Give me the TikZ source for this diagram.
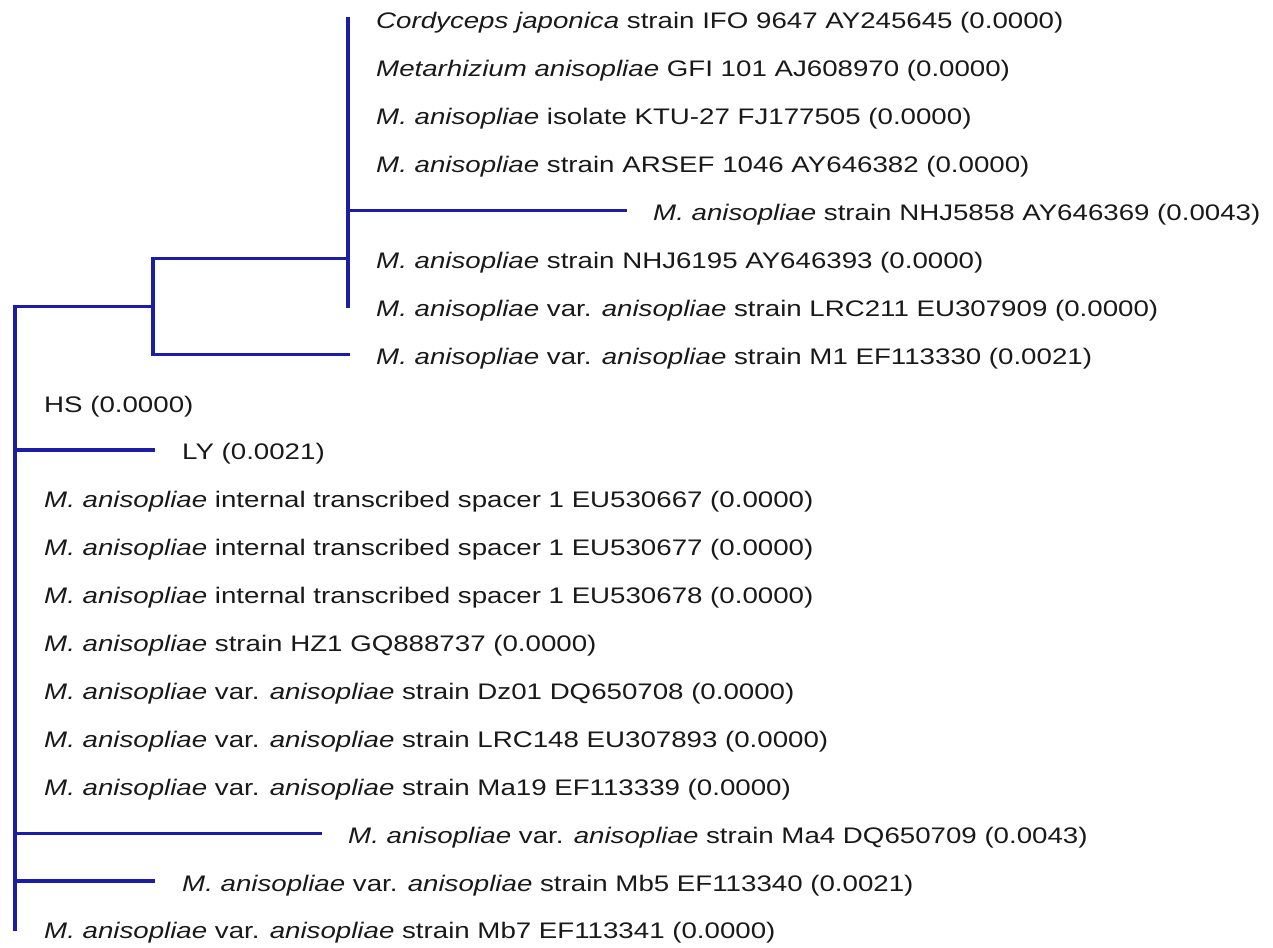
\documentclass[tikz,border=0pt]{standalone}
\usepackage{fontspec}
\setmainfont{Liberation Sans}
\newfontfamily\treefont[FakeStretch=1.23]{Liberation Sans}
\usepackage{xcolor}
\usepackage{tikz}
\usetikzlibrary{positioning}
\definecolor{branchline}{RGB}{28,28,165}
\definecolor{labeltext}{RGB}{25,25,25}
\newcommand{\Manis}{\textit{M. anisopliae}}
\newcommand{\Mvar}{\textit{M. anisopliae} var. \textit{anisopliae}}

\begin{document}
\begin{tikzpicture}[
  x=1pt, y=-1pt,
  branch/.style={draw=branchline, line width=3.5pt, line cap=rect},
  taxon/.style={font=\treefont\fontsize{22.5}{27}\selectfont, text=labeltext,
                inner sep=0pt, yshift=-4pt},
]
\useasboundingbox (0,0) rectangle (1273,947);

% =================================================================
% TIPS AND INNER NODES
% =================================================================
\coordinate (root)  at (15, 306.4);
\coordinate (nA)    at (153, 306.4);
\coordinate (t0)  at (348, 19);
\coordinate (t1)  at (348, 66.9);
\coordinate (t2)  at (348, 114.8);
\coordinate (t3)  at (348, 162.7);
\coordinate (t4)  at (625, 210.6);
\coordinate (t5)  at (348, 258.5);
\coordinate (t6)  at (348, 306.4);
\coordinate (t7)  at (348, 354.3);
\coordinate (t8)  at (15, 402.2);
\coordinate (t9)  at (153, 450.1);
\coordinate (t10) at (15, 498);
\coordinate (t11) at (15, 545.9);
\coordinate (t12) at (15, 593.8);
\coordinate (t13) at (15, 641.7);
\coordinate (t14) at (15, 689.6);
\coordinate (t15) at (15, 737.5);
\coordinate (t16) at (15, 785.4);
\coordinate (t17) at (320, 833.3);
\coordinate (t18) at (153, 881.2);
\coordinate (t19) at (15, 929.1);

% =================================================================
% BRANCHES
% =================================================================
% upper clade
\draw[branch] (t0) -- (t6);
\draw[branch] (t0 |- t4) -- (t4);
\draw[branch] (nA |- t5) -- (nA |- t7);
\draw[branch] (nA |- t5) -- (t5);
\draw[branch] (nA |- t7) -- (t7);
% root
\draw[branch] (root) -- (t19);
\draw[branch] (root) -- (nA);
\draw[branch] (root |- t9) -- (t9);
\draw[branch] (root |- t17) -- (t17);
\draw[branch] (root |- t18) -- (t18);

% =================================================================
% TAXON LABELS
% =================================================================
\node[taxon, right=28pt of t0]  (l0)  {\textit{Cordyceps japonica} strain IFO 9647 AY245645 (0.0000)};
\node[taxon, right=28pt of t1]  (l1)  {\textit{Metarhizium anisopliae} GFI 101 AJ608970 (0.0000)};
\node[taxon, right=28pt of t2]  (l2)  {\Manis{} isolate KTU-27 FJ177505 (0.0000)};
\node[taxon, right=28pt of t3]  (l3)  {\Manis{} strain ARSEF 1046 AY646382 (0.0000)};
\node[taxon, right=28pt of t4]  (l4)  {\Manis{} strain NHJ5858 AY646369 (0.0043)};
\node[taxon, right=28pt of t5]  (l5)  {\Manis{} strain NHJ6195 AY646393 (0.0000)};
\node[taxon, right=28pt of t6]  (l6)  {\Mvar{} strain LRC211 EU307909 (0.0000)};
\node[taxon, right=28pt of t7]  (l7)  {\Mvar{} strain M1 EF113330 (0.0021)};
\node[taxon, right=29pt of t8]  (l8)  {HS (0.0000)};
\node[taxon, right=29pt of t9]  (l9)  {LY (0.0021)};
\node[taxon, right=29pt of t10] (l10) {\Manis{} internal transcribed spacer 1 EU530667 (0.0000)};
\node[taxon, right=29pt of t11] (l11) {\Manis{} internal transcribed spacer 1 EU530677 (0.0000)};
\node[taxon, right=29pt of t12] (l12) {\Manis{} internal transcribed spacer 1 EU530678 (0.0000)};
\node[taxon, right=29pt of t13] (l13) {\Manis{} strain HZ1 GQ888737 (0.0000)};
\node[taxon, right=29pt of t14] (l14) {\Mvar{} strain Dz01 DQ650708 (0.0000)};
\node[taxon, right=29pt of t15] (l15) {\Mvar{} strain LRC148 EU307893 (0.0000)};
\node[taxon, right=29pt of t16] (l16) {\Mvar{} strain Ma19 EF113339 (0.0000)};
\node[taxon, right=28pt of t17] (l17) {\Mvar{} strain Ma4 DQ650709 (0.0043)};
\node[taxon, right=29pt of t18] (l18) {\Mvar{} strain Mb5 EF113340 (0.0021)};
\node[taxon, right=29pt of t19] (l19) {\Mvar{} strain Mb7 EF113341 (0.0000)};

\end{tikzpicture}
\end{document}
